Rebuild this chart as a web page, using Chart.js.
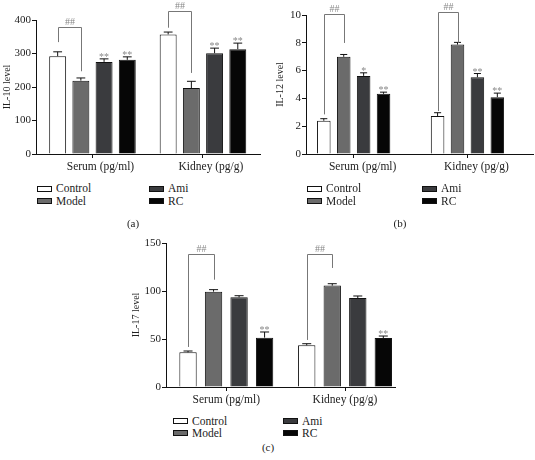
<!DOCTYPE html>
<html>
<head>
<meta charset="utf-8">
<script src="https://cdn.jsdelivr.net/npm/chart.js@4"></script>
<style>
  body { margin: 0; background: #fff; width: 535px; height: 460px; position: relative; overflow: hidden;
         font-family: "Liberation Serif", serif; color: #222; }
  canvas { position: absolute; }
  .leg { position: absolute; font-size: 11.5px; line-height: 12px; white-space: nowrap; }
  .sw { position: absolute; border: 1px solid #111; box-sizing: border-box; width: 15px; height: 6px; }
  .cap { position: absolute; font-size: 11px; line-height: 12px; transform: translateX(-50%); }
</style>
</head>
<body>
<canvas id="chartA" width="268" height="175" style="left:0;top:0"></canvas>
<canvas id="chartB" width="267" height="175" style="left:268px;top:0"></canvas>
<canvas id="chartC" width="270" height="183" style="left:130px;top:225px"></canvas>
<div id="legends"></div>
<script>
const categories = ['Serum (pg/ml)', 'Kidney (pg/g)'];
const groups = ['Control', 'Model', 'Ami', 'RC'];
const groupColors = ['#ffffff', '#6b6b6b', '#3a3b3e', '#060606'];

// (a) IL-10
const il10Ticks = [0, 100, 200, 300, 400];
const il10Control = [292, 357];
const il10Model = [219, 197];
const il10Ami = [275, 301];
const il10RC = [281, 313];
const il10ControlErr = [13, 7];
const il10ModelErr = [8, 20];
const il10AmiErr = [9, 15];
const il10RCErr = [9, 18];
const il10Marks = [['', ''], ['', ''], ['**', '**'], ['**', '**']];
const il10BracketTop = [378, 428];
const il10BracketLeft = [334, 377];
const il10BracketRight = [247, 242];

// (b) IL-12
const il12Ticks = [0, 2, 4, 6, 8, 10];
const il12Control = [2.39, 2.73];
const il12Model = [6.99, 7.87];
const il12Ami = [5.62, 5.52];
const il12RC = [4.33, 4.09];
const il12ControlErr = [0.15, 0.24];
const il12ModelErr = [0.17, 0.16];
const il12AmiErr = [0.22, 0.27];
const il12RCErr = [0.12, 0.29];
const il12Marks = [['', ''], ['', ''], ['*', '**'], ['**', '**']];
const il12BracketTop = [10.08, 10.2];
const il12BracketLeft = [2.85, 3.09];
const il12BracketRight = [7.99, 8.0];

// (c) IL-17
const il17Ticks = [0, 50, 100, 150];
const il17Control = [36.1, 43.4];
const il17Model = [99.3, 105.6];
const il17Ami = [93.4, 92.7];
const il17RC = [51.4, 51];
const il17ControlErr = [1.4, 1.7];
const il17ModelErr = [2.1, 2.0];
const il17AmiErr = [1.7, 2.1];
const il17RCErr = [5.9, 2.1];
const il17Marks = [['', ''], ['', ''], ['', ''], ['**', '**']];
const il17BracketTop = [138.5, 138.5];
const il17BracketLeft = [41.7, 49];
const il17BracketRight = [111.8, 124];

Chart.defaults.font.family = '"Liberation Serif", serif';
Chart.defaults.color = '#222';

// error bars, significance marks and ## brackets
function annotPlugin(errs, marks, bTop, bLeft, bRight) {
    return {
        id: 'annot',
        afterDatasetsDraw(chart) {
            const ctx = chart.ctx;
            const y = chart.scales.y;
            ctx.save();
            ctx.lineWidth = 1;
            chart.data.datasets.forEach((ds, di) => {
                chart.getDatasetMeta(di).data.forEach((bar, i) => {
                    const top = y.getPixelForValue(ds.data[i].y + errs[di][i]);
                    const half = bar.width * 0.26;
                    ctx.strokeStyle = '#111';
                    ctx.beginPath();
                    ctx.moveTo(bar.x, bar.y);
                    ctx.lineTo(bar.x, top);
                    ctx.moveTo(bar.x - half, top);
                    ctx.lineTo(bar.x + half, top);
                    ctx.stroke();
                    if (marks[di][i]) {
                        ctx.fillStyle = '#888';
                        ctx.font = '10px "Liberation Serif"';
                        ctx.textAlign = 'center';
                        ctx.textBaseline = 'alphabetic';
                        ctx.fillText(marks[di][i], bar.x, top + 1);
                    }
                });
            });
            const m0 = chart.getDatasetMeta(0).data;
            const m1 = chart.getDatasetMeta(1).data;
            bTop.forEach((t, i) => {
                const x0 = Math.round(m0[i].x) + 0.5, x1 = Math.round(m1[i].x) + 0.5;
                const yt = Math.round(y.getPixelForValue(t)) + 0.5;
                ctx.strokeStyle = '#777';
                ctx.beginPath();
                ctx.moveTo(x0, y.getPixelForValue(bLeft[i]));
                ctx.lineTo(x0, yt);
                ctx.lineTo(x1, yt);
                ctx.lineTo(x1, y.getPixelForValue(bRight[i]));
                ctx.stroke();
                ctx.fillStyle = '#888';
                ctx.font = '10px "Liberation Serif"';
                ctx.textAlign = 'center';
                ctx.textBaseline = 'alphabetic';
                ctx.fillText('##', (x0 + x1) / 2, yt - 3);
            });
            ctx.restore();
        }
    };
}

function makePanel(id, p) {
    const datasets = p.values.map((vals, gi) => ({
        label: groups[gi],
        data: vals.map((v, i) => ({ x: i, y: v })),
        backgroundColor: groupColors[gi],
        borderColor: '#111',
        borderWidth: 1,
        categoryPercentage: p.catPct,
        barPercentage: p.barPct
    }));
    new Chart(document.getElementById(id), {
        type: 'bar',
        data: { datasets },
        options: {
            responsive: false,
            animation: false,
            events: [],
            layout: { padding: p.padding },
            plugins: { legend: { display: false }, tooltip: { enabled: false } },
            scales: {
                x: {
                    type: 'linear',
                    min: p.xMin,
                    max: p.xMax,
                    offset: false,
                    afterBuildTicks: s => { s.ticks = categories.map((c, i) => ({ value: i })); },
                    afterFit: s => { s.height = 21; },
                    grid: { offset: false, drawOnChartArea: false, drawTicks: true, tickLength: 4, color: '#111' },
                    border: { color: '#111', width: 1 },
                    ticks: {
                        callback: v => categories[v],
                        font: { size: 11.5 },
                        padding: 2,
                        labelOffset: p.labelOffset,
                        maxRotation: 0,
                        autoSkip: false
                    }
                },
                y: {
                    min: 0,
                    max: p.yTicks[p.yTicks.length - 1],
                    afterBuildTicks: s => { s.ticks = p.yTicks.map(v => ({ value: v })); },
                    afterFit: s => { s.width = p.yWidth; },
                    grid: { drawOnChartArea: false, drawTicks: true, tickLength: 4, color: '#111' },
                    border: { color: '#111', width: 1 },
                    ticks: { font: { size: 11 }, padding: 1 },
                    title: {
                        display: true,
                        text: p.title,
                        font: { size: 10 },
                        padding: { top: p.titlePad, bottom: 0 }
                    }
                }
            }
        },
        plugins: [annotPlugin(p.errs, p.marks, p.bTop, p.bLeft, p.bRight)]
    });
}

makePanel('chartA', {
    title: 'IL-10 level', yTicks: il10Ticks,
    values: [il10Control, il10Model, il10Ami, il10RC],
    errs: [il10ControlErr, il10ModelErr, il10AmiErr, il10RCErr],
    marks: il10Marks, bTop: il10BracketTop, bLeft: il10BracketLeft, bRight: il10BracketRight,
    padding: { top: 20, right: 8, left: 0, bottom: 0 },
    yWidth: 36, titlePad: 1, xMin: -0.511, xMax: 1.516, catPct: 0.84, barPct: 0.73, labelOffset: 8
});

makePanel('chartB', {
    title: 'IL-12 level', yTicks: il12Ticks,
    values: [il12Control, il12Model, il12Ami, il12RC],
    errs: [il12ControlErr, il12ModelErr, il12AmiErr, il12RCErr],
    marks: il12Marks, bTop: il12BracketTop, bLeft: il12BracketLeft, bRight: il12BracketRight,
    padding: { top: 15, right: 2, left: 0, bottom: 0 },
    yWidth: 38, titlePad: 6, xMin: -0.419, xMax: 1.576, catPct: 0.70, barPct: 0.68, labelOffset: 9
});

makePanel('chartC', {
    title: 'IL-17 level', yTicks: il17Ticks,
    values: [il17Control, il17Model, il17Ami, il17RC],
    errs: [il17ControlErr, il17ModelErr, il17AmiErr, il17RCErr],
    marks: il17Marks, bTop: il17BracketTop, bLeft: il17BracketLeft, bRight: il17BracketRight,
    padding: { top: 18, right: 5, left: 0, bottom: 0 },
    yWidth: 36, titlePad: 0, xMin: -0.508, xMax: 1.421, catPct: 0.86, barPct: 0.68, labelOffset: 0
});

// legends and captions
const legendSpots = [
    { col1: 37, col2: 149, row1: 188.5, row2: 201, caption: '(a)', capX: 133, capY: 223 },
    { col1: 307, col2: 422, row1: 188.5, row2: 201, caption: '(b)', capX: 400, capY: 223 },
    { col1: 173, col2: 283, row1: 421, row2: 433, caption: '(c)', capX: 268, capY: 447 }
];
const holder = document.getElementById('legends');
legendSpots.forEach(s => {
    groups.forEach((g, gi) => {
        const x = gi < 2 ? s.col1 : s.col2;
        const yc = gi % 2 === 0 ? s.row1 : s.row2;
        const sw = document.createElement('div');
        sw.className = 'sw';
        sw.style.left = x + 'px';
        sw.style.top = (yc - 3) + 'px';
        sw.style.background = groupColors[gi];
        holder.appendChild(sw);
        const t = document.createElement('div');
        t.className = 'leg';
        t.textContent = g;
        t.style.left = (x + 19) + 'px';
        t.style.top = (yc - 6.5) + 'px';
        holder.appendChild(t);
    });
    const c = document.createElement('div');
    c.className = 'cap';
    c.textContent = s.caption;
    c.style.left = s.capX + 'px';
    c.style.top = (s.capY - 6) + 'px';
    holder.appendChild(c);
});
</script>
</body>
</html>
